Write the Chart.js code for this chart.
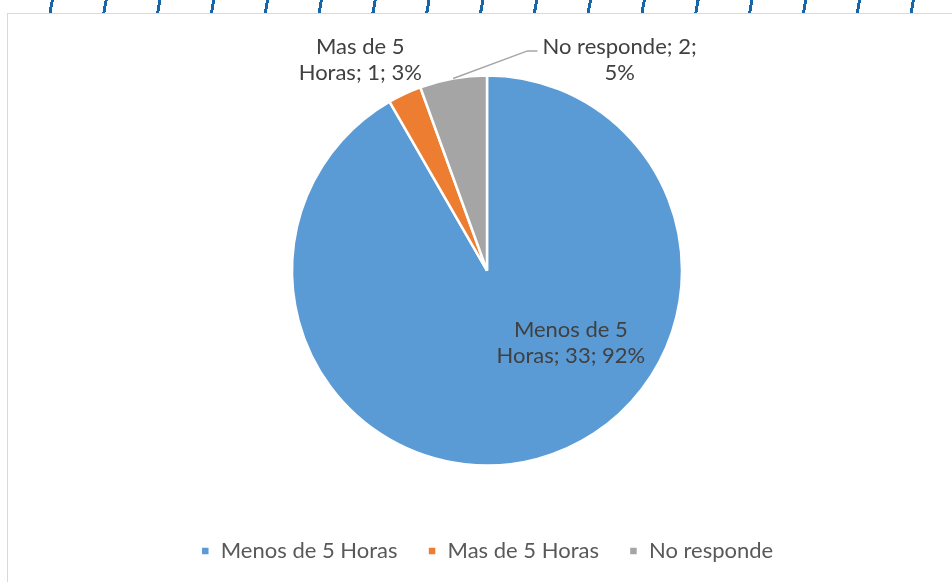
<!DOCTYPE html>
<html>
<head>
<meta charset="utf-8">
<script src="https://cdn.jsdelivr.net/npm/chart.js@4"></script>
<style>
    html, body { margin: 0; padding: 0; background: #fff; }
    body { width: 952px; height: 582px; position: relative; overflow: hidden; font-family: Lato, sans-serif; }
    .strip {
        position: absolute; left: 0; top: 0; width: 952px; height: 14px;
        background: repeating-linear-gradient(100deg, transparent 0 50px, #1565a8 50px 53px);
    }
    .frame {
        position: absolute; left: 7px; top: 13px; width: 980px; height: 620px;
        border: 1px solid #d9d9d9; background: #fff;
    }
    canvas { position: absolute; left: 0; top: 0; }
</style>
</head>
<body>
<div class="strip"></div>
<div class="frame"></div>
<canvas id="pieChart" width="952" height="582"></canvas>
<script>
const categories = ['Menos de 5 Horas', 'Mas de 5 Horas', 'No responde'];
const counts = [33, 1, 2];
const percents = ['92%', '3%', '5%'];
const colors = ['#5B9BD5', '#ED7D31', '#A5A5A5'];

// where each data label sits, in units of the pie radius from the centre
const labelOffsets = [
    { dx: 0.43, dy: 0.37, leader: false },
    { dx: -0.65, dy: -1.08, leader: false },
    { dx: 0.68, dy: -1.08, leader: true }
];

const labelFont = '22px Lato, sans-serif';

const pieLabels = {
    id: 'pieLabels',
    afterDatasetsDraw(chart) {
        const ctx = chart.ctx;
        const arcs = chart.getDatasetMeta(0).data;
        ctx.save();
        ctx.font = labelFont;
        ctx.fillStyle = '#404040';
        ctx.textAlign = 'center';
        ctx.textBaseline = 'middle';
        arcs.forEach((arc, i) => {
            const r = arc.outerRadius;
            const x = arc.x + labelOffsets[i].dx * r;
            const y = arc.y + labelOffsets[i].dy * r;
            const words = categories[i].split(' ');
            const line1 = i === 2 ? categories[i] + '; ' + counts[i] + ';' : words.slice(0, 3).join(' ');
            const line2 = i === 2 ? percents[i] : words.slice(3).join(' ') + '; ' + counts[i] + '; ' + percents[i];
            ctx.fillText(line1, x, y - 13);
            ctx.fillText(line2, x, y + 13);
            if (labelOffsets[i].leader) {
                const mid = (arc.startAngle + arc.endAngle) / 2;
                const sx = arc.x + Math.cos(mid) * r;
                const sy = arc.y + Math.sin(mid) * r;
                const w = ctx.measureText(line1).width;
                const ex = x - w / 2 - 5;
                ctx.strokeStyle = '#A6A6A6';
                ctx.lineWidth = 1.5;
                ctx.beginPath();
                ctx.moveTo(sx, sy);
                ctx.lineTo(ex - 10, y - 9);
                ctx.lineTo(ex, y - 9);
                ctx.stroke();
            }
        });
        ctx.restore();
    }
};

new Chart(document.getElementById('pieChart').getContext('2d'), {
    type: 'pie',
    data: {
        labels: categories,
        datasets: [{
            data: counts,
            backgroundColor: colors,
            borderColor: '#ffffff',
            borderWidth: 2.5,
            radius: 195
        }]
    },
    options: {
        responsive: false,
        animation: false,
        layout: { padding: { top: 31, bottom: 10, left: 22, right: 0 } },
        plugins: {
            tooltip: { enabled: false },
            legend: {
                position: 'bottom',
                labels: {
                    color: '#595959',
                    font: { family: 'Lato, sans-serif', size: 22 },
                    boxWidth: 9,
                    boxHeight: 9,
                    padding: 30
                }
            }
        }
    },
    plugins: [pieLabels]
});
</script>
</body>
</html>
